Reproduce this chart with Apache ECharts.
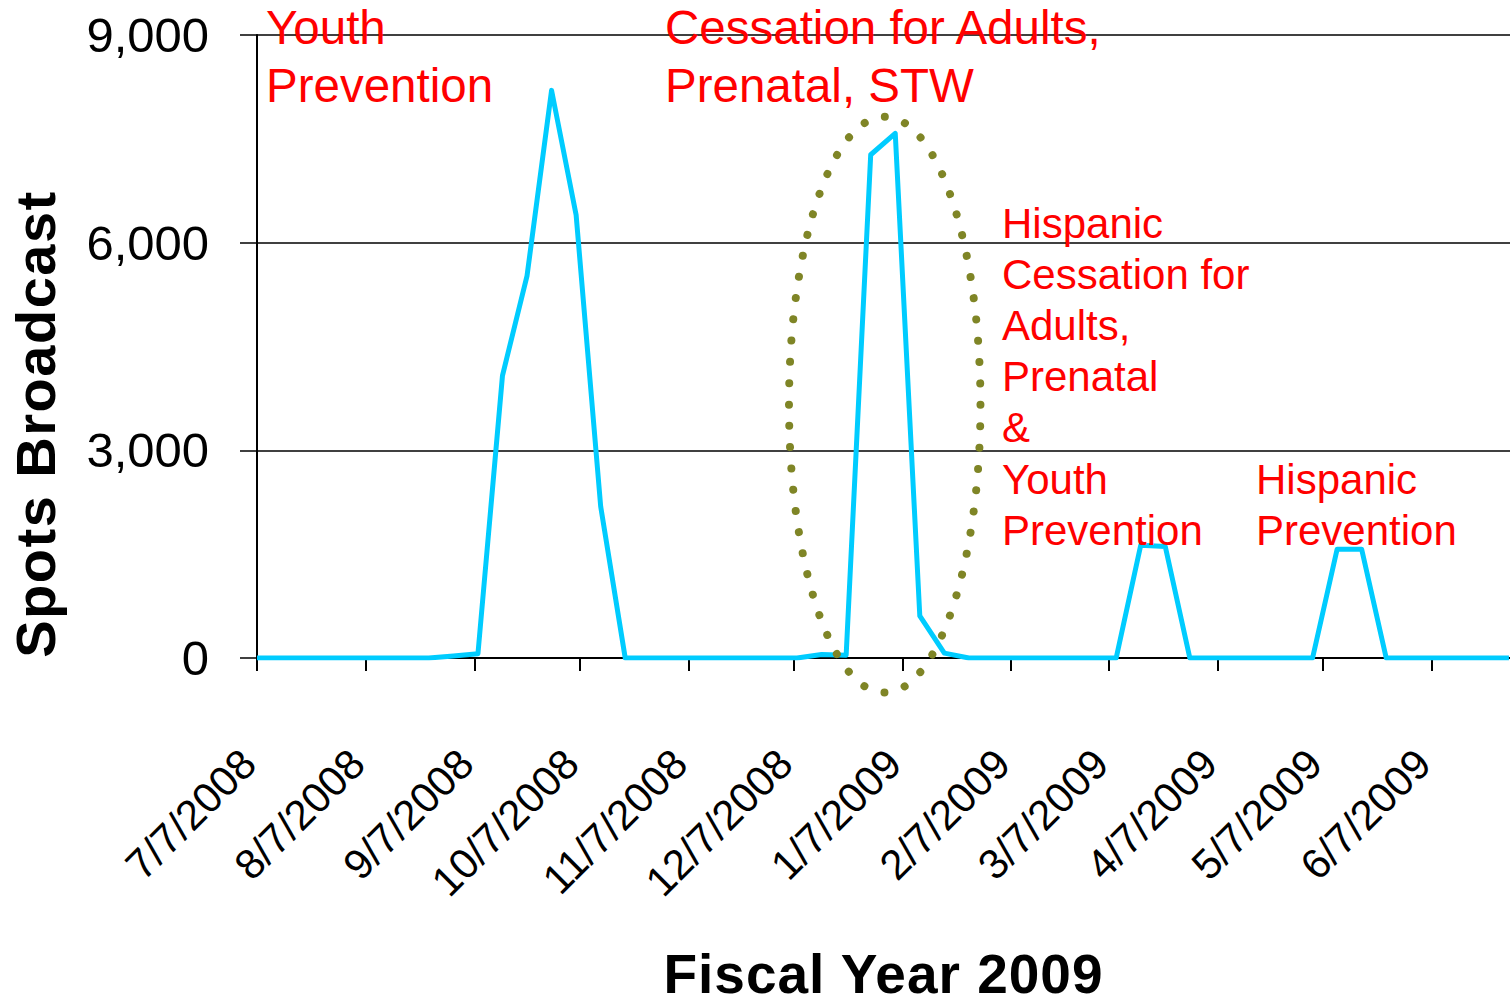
<!DOCTYPE html>
<html>
<head>
<meta charset="utf-8">
<script src="https://cdn.jsdelivr.net/npm/echarts@6/dist/echarts.min.js"></script>
<style>
  html, body { margin: 0; padding: 0; background: #ffffff; }
  #main { width: 1510px; height: 1005px; }
  #main text[style*="Arimo"][style*="56px"] { letter-spacing: 1.5px; }
  #main text[style*="Helvetica"][style*="55px"] { letter-spacing: 1px; }
</style>
</head>
<body>
<div id="main"></div>
<script>
// ---------------- data ----------------
const weekStarts = [
  '7/7/2008','7/14/2008','7/21/2008','7/28/2008','8/4/2008','8/11/2008','8/18/2008','8/25/2008',
  '9/1/2008','9/8/2008','9/15/2008','9/22/2008','9/29/2008','10/6/2008','10/13/2008','10/20/2008',
  '10/27/2008','11/3/2008','11/10/2008','11/17/2008','11/24/2008','12/1/2008','12/8/2008','12/15/2008',
  '12/22/2008','12/29/2008','1/5/2009','1/12/2009','1/19/2009','1/26/2009','2/2/2009','2/9/2009',
  '2/16/2009','2/23/2009','3/2/2009','3/9/2009','3/16/2009','3/23/2009','3/30/2009','4/6/2009',
  '4/13/2009','4/20/2009','4/27/2009','5/4/2009','5/11/2009','5/18/2009','5/25/2009','6/1/2009',
  '6/8/2009','6/15/2009','6/22/2009','6/29/2009'
];
const spotsBroadcast = [
  0, 0, 0, 0, 0, 0, 0, 0,
  30, 60, 4080, 5520, 8200, 6400, 2190, 0,
  0, 0, 0, 0, 0, 0, 0, 50,
  40, 7270, 7580, 610, 70, 0, 0, 0,
  0, 0, 0, 0, 1630, 1610, 0, 0,
  0, 0, 0, 0, 1570, 1570, 0, 0,
  0, 0, 0, 0
];
const xTickLabels = ['7/7/2008','8/7/2008','9/7/2008','10/7/2008','11/7/2008','12/7/2008',
  '1/7/2009','2/7/2009','3/7/2009','4/7/2009','5/7/2009','6/7/2009'];
const yTickValues = [0, 3000, 6000, 9000];
const yTickLabels = ['0', '3,000', '6,000', '9,000'];
const xAxisStart = '7/7/2008';
const xAxisEnd = '6/29/2009';
const xAxisEndExtraDays = 0.3;

const annotationTexts = [
  'Youth\nPrevention',
  'Cessation for Adults,\nPrenatal, STW',
  'Hispanic\nCessation for\nAdults,\nPrenatal\n&\nYouth\nPrevention',
  'Hispanic\nPrevention'
];
// highlighted campaign (dotted ellipse), in data units
const highlightCenterDate = '1/2/2009';
const highlightCenterValue = 3660;
const highlightHalfWidthDays = 27.3;
const highlightHalfHeightValue = 4160;

// ---------------- helpers ----------------
const DAY = 86400000;
function parseMDY(s) {
  const p = s.split('/').map(Number);
  return new Date(p[2], p[0] - 1, p[1]).getTime();
}
const xTickValues = xTickLabels.map(parseMDY);
const seriesData = weekStarts.map((d, i) => [parseMDY(d), spotsBroadcast[i]]);

const SANS = "'Liberation Sans', Arial, sans-serif";
const SANS_T = "'Liberation Sans', Arimo, Arial, sans-serif";
const SANS_X = "'Liberation Sans', Helvetica, Arial, sans-serif";

const chart = echarts.init(document.getElementById('main'), null, { renderer: 'svg' });

chart.setOption({
  animation: false,
  backgroundColor: '#ffffff',
  grid: { left: 257, right: 0, top: 35, bottom: 347, outerBoundsMode: 'none', containLabel: false },
  xAxis: {
    type: 'value',
    scale: true,
    min: parseMDY(xAxisStart),
    max: parseMDY(xAxisEnd) + xAxisEndExtraDays * DAY,
    name: 'Fiscal Year 2009',
    nameLocation: 'middle',
    nameGap: 297.5,
    nameTextStyle: { fontFamily: SANS_X, fontWeight: 'bold', fontSize: 55, lineHeight: 36, color: '#000' },
    axisLine: { show: true, onZero: false, lineStyle: { color: '#000', width: 2 } },
    axisTick: { show: true, inside: false, length: 13, customValues: xTickValues,
                lineStyle: { color: '#000', width: 2 } },
    axisLabel: {
      show: true, customValues: xTickValues, rotate: 45, margin: 90,
      padding: [0, 12, 0, 0],
      hideOverlap: false, showMinLabel: true, showMaxLabel: true,
      fontFamily: SANS, fontSize: 42, color: '#000',
      formatter: function (v) {
        const i = xTickValues.indexOf(v);
        return i >= 0 ? xTickLabels[i] : '';
      }
    },
    splitLine: { show: false },
    minorTick: { show: false }
  },
  yAxis: {
    type: 'value',
    min: yTickValues[0],
    max: yTickValues[yTickValues.length - 1],
    interval: yTickValues[1] - yTickValues[0],
    axisLine: { show: true, lineStyle: { color: '#000', width: 2 } },
    axisTick: { show: true, inside: false, length: 17, lineStyle: { color: '#000', width: 1.5 } },
    axisLabel: {
      margin: 48, fontFamily: SANS, fontSize: 49, color: '#000',
      formatter: function (v) {
        const i = yTickValues.indexOf(v);
        return i >= 0 ? yTickLabels[i] : String(v);
      }
    },
    splitLine: { show: true, lineStyle: { color: '#000', width: 1.5 } }
  },
  series: [{
    type: 'line',
    name: 'Spots Broadcast',
    data: seriesData,
    symbol: 'none',
    lineStyle: { color: '#00CCFF', width: 5, join: 'round' },
    z: 3
  }]
});

const c = chart.convertToPixel({ gridIndex: 0 }, [parseMDY(highlightCenterDate), highlightCenterValue]);
const e = chart.convertToPixel({ gridIndex: 0 },
  [parseMDY(highlightCenterDate) + highlightHalfWidthDays * DAY, highlightCenterValue + highlightHalfHeightValue]);
const rx = Math.abs(e[0] - c[0]);
const ry = Math.abs(c[1] - e[1]);
const hh = Math.pow((ry - rx) / (ry + rx), 2);
const perim = Math.PI * (rx + ry) * (1 + 3 * hh / (10 + Math.sqrt(4 - 3 * hh)));
const gap = perim / 60;

chart.setOption({
  graphic: [
    {
      type: 'ellipse', z: 100,
      shape: { cx: c[0], cy: c[1], rx: rx, ry: ry },
      style: { fill: 'none', stroke: '#7F8526', lineWidth: 8, lineDash: [0.01, gap - 0.01], lineCap: 'round' }
    },
    {
      type: 'text', z: 101, x: 266, y: -1,
      style: { text: annotationTexts[0], fill: '#FF0000', fontFamily: SANS, fontSize: 47.5,
               lineHeight: 57.5, align: 'left', verticalAlign: 'top' }
    },
    {
      type: 'text', z: 101, x: 665, y: -1,
      style: { text: annotationTexts[1], fill: '#FF0000', fontFamily: SANS, fontSize: 47.5,
               lineHeight: 57.5, align: 'left', verticalAlign: 'top' }
    },
    {
      type: 'text', z: 101, x: 1002, y: 197.5,
      style: { text: annotationTexts[2], fill: '#FF0000', fontFamily: SANS, fontSize: 42,
               lineHeight: 51.2, align: 'left', verticalAlign: 'top' }
    },
    {
      type: 'text', z: 101, x: 1256, y: 453.5,
      style: { text: annotationTexts[3], fill: '#FF0000', fontFamily: SANS, fontSize: 42,
               lineHeight: 51.2, align: 'left', verticalAlign: 'top' }
    },
    {
      type: 'text', z: 101, x: 35, y: 424, rotation: Math.PI / 2,
      style: { text: 'Spots Broadcast', fill: '#000', fontFamily: SANS_T, fontWeight: 'bold',
               fontSize: 56, align: 'center', verticalAlign: 'middle' }
    }
  ]
});
</script>
</body>
</html>
